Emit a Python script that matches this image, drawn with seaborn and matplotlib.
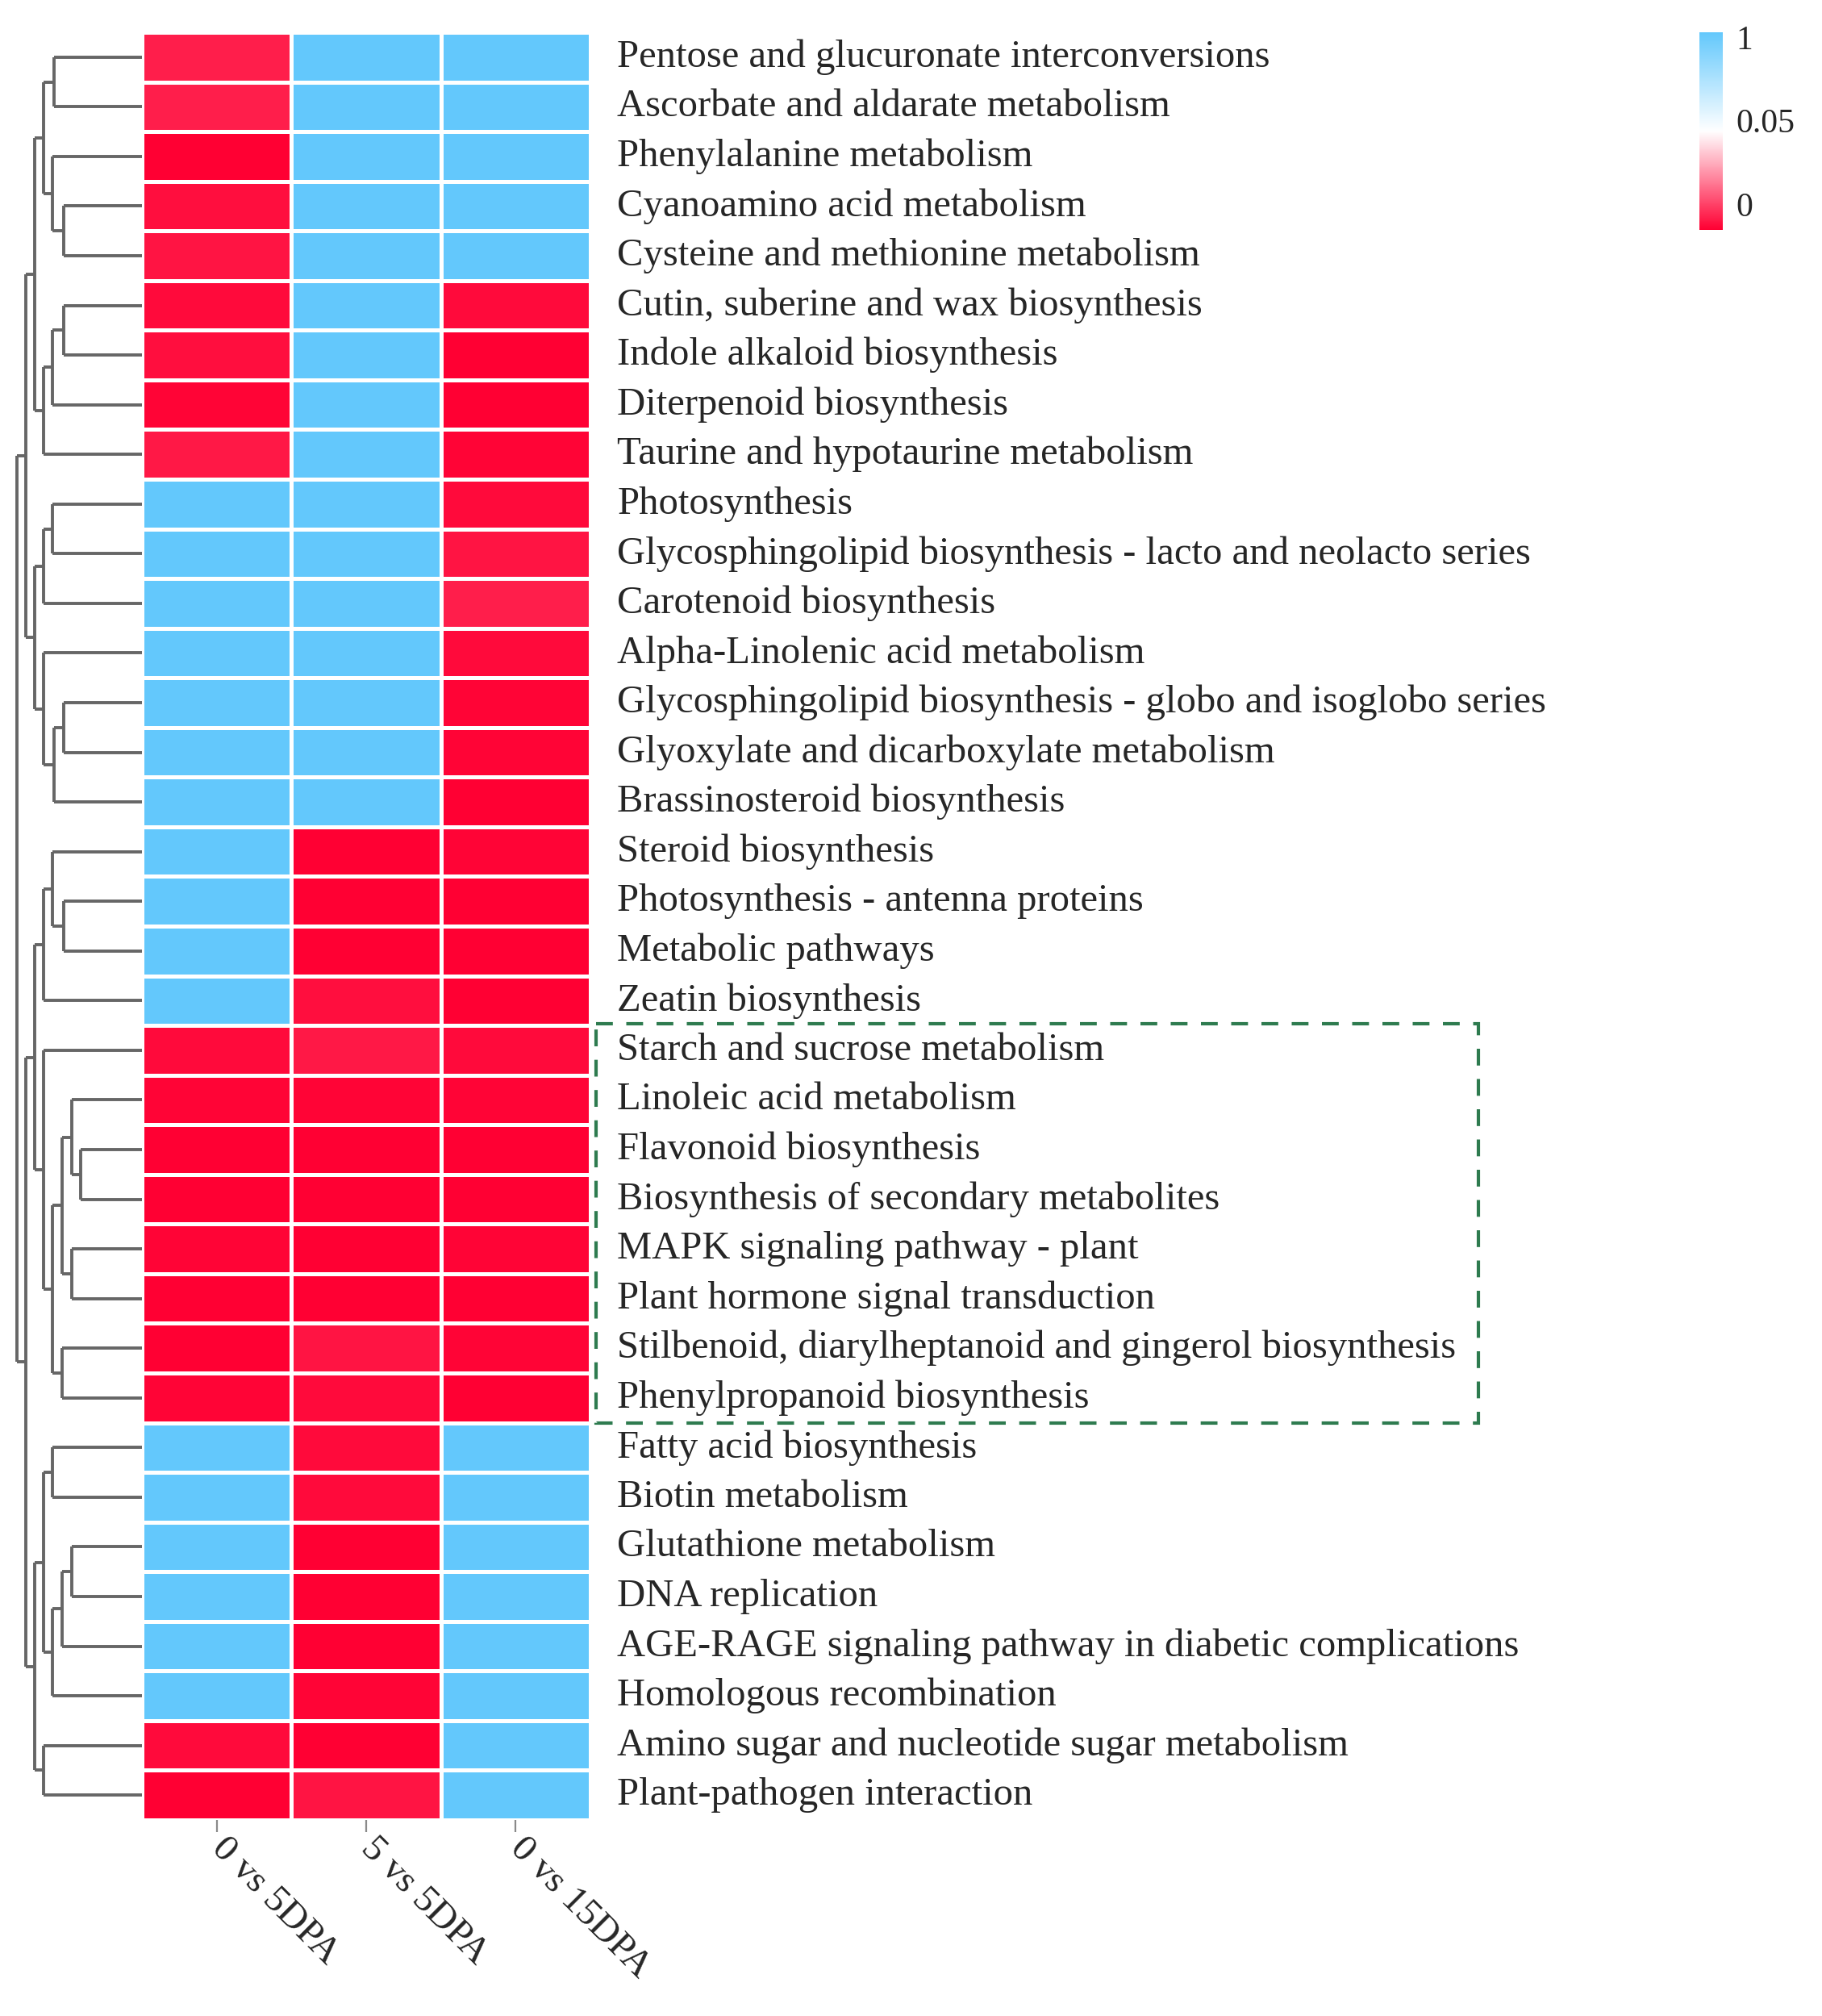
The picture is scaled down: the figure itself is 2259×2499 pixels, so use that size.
import numpy as np
import pandas as pd
import matplotlib
matplotlib.use("Agg")
import matplotlib.pyplot as plt
import matplotlib.transforms as mtransforms
import seaborn as sns
from matplotlib.colors import LinearSegmentedColormap, TwoSlopeNorm
from matplotlib.patches import Rectangle

# ---------------- data ----------------
pathways = [
    "Pentose and glucuronate interconversions",
    "Ascorbate and aldarate metabolism",
    "Phenylalanine metabolism",
    "Cyanoamino acid metabolism",
    "Cysteine and methionine metabolism",
    "Cutin, suberine and wax biosynthesis",
    "Indole alkaloid biosynthesis",
    "Diterpenoid biosynthesis",
    "Taurine and hypotaurine metabolism",
    "Photosynthesis",
    "Glycosphingolipid biosynthesis - lacto and neolacto series",
    "Carotenoid biosynthesis",
    "Alpha-Linolenic acid metabolism",
    "Glycosphingolipid biosynthesis - globo and isoglobo series",
    "Glyoxylate and dicarboxylate metabolism",
    "Brassinosteroid biosynthesis",
    "Steroid biosynthesis",
    "Photosynthesis - antenna proteins",
    "Metabolic pathways",
    "Zeatin biosynthesis",
    "Starch and sucrose metabolism",
    "Linoleic acid metabolism",
    "Flavonoid biosynthesis",
    "Biosynthesis of secondary metabolites",
    "MAPK signaling pathway - plant",
    "Plant hormone signal transduction",
    "Stilbenoid, diarylheptanoid and gingerol biosynthesis",
    "Phenylpropanoid biosynthesis",
    "Fatty acid biosynthesis",
    "Biotin metabolism",
    "Glutathione metabolism",
    "DNA replication",
    "AGE-RAGE signaling pathway in diabetic complications",
    "Homologous recombination",
    "Amino sugar and nucleotide sugar metabolism",
    "Plant-pathogen interaction",
]
comparisons = ["0 vs 5DPA", "5 vs 5DPA", "0 vs 15DPA"]

p_0vs5 = [0.006, 0.006, 0.000, 0.003, 0.004, 0.002, 0.003, 0.001, 0.005,
          1, 1, 1, 1, 1, 1, 1, 1, 1, 1, 1,
          0.002, 0.001, 0.000, 0.000, 0.001, 0.000, 0.000, 0.001,
          1, 1, 1, 1, 1, 1, 0.002, 0.000]
p_5vs5 = [1, 1, 1, 1, 1, 1, 1, 1, 1,
          1, 1, 1, 1, 1, 1, 1,
          0.000, 0.000, 0.000, 0.003,
          0.005, 0.001, 0.000, 0.000, 0.000, 0.000, 0.004, 0.002,
          0.002, 0.002, 0.000, 0.000, 0.000, 0.001, 0.000, 0.004]
p_0vs15 = [1, 1, 1, 1, 1, 0.002, 0.000, 0.000, 0.001,
           0.002, 0.004, 0.006, 0.002, 0.001, 0.001, 0.000,
           0.001, 0.000, 0.000, 0.000,
           0.002, 0.001, 0.000, 0.000, 0.001, 0.000, 0.001, 0.000,
           1, 1, 1, 1, 1, 1, 1, 1]

# row dendrogram: (left, right, merge height); ints are row indices
clust_a = ((0, 1, 325), (2, (3, 4, 290), 330), 363)
clust_b = ((((5, 6, 290), 7, 330), 8, 363))
clust_c = ((9, 10, 330), 11, 363)
clust_d = (12, ((13, 14, 290), 15, 325), 363)
clust_e = ((16, (17, 18, 290), 330), 19, 363)
clust_f = (20, (((21, (22, 23, 228), 260), (24, 25, 260), 295), (26, 27, 295), 330), 363)
clust_g = (((28, 29, 330), (((30, 31, 260), 32, 295), 33, 330), 363), (34, 35, 363), 395)
tree = (((clust_a, clust_b, 395), (clust_c, clust_d, 395), 428),
        (((clust_e, clust_f, 395), clust_g, 428)), 462)

# ---------------- style ----------------
sns.set_style("white")
plt.rcParams["font.family"] = ["Liberation Serif", "DejaVu Serif"]

cmap = LinearSegmentedColormap.from_list(
    "pval", [(0.0, "#FF0033"), (0.5, "#FFFFFF"), (1.0, "#63C8FC")])
norm = TwoSlopeNorm(vmin=0, vcenter=0.05, vmax=1)

W, H = 2259, 2499
fig = plt.figure(figsize=(W / 100, H / 100), dpi=100)


def box(x0, y0, x1, y1):
    return [x0 / W, 1 - y1 / H, (x1 - x0) / W, (y1 - y0) / H]


hx0, hy0, hx1, hy1 = 176, 40, 732, 2256
ax = fig.add_axes(box(hx0, hy0, hx1, hy1))
dax = fig.add_axes(box(0, hy0, hx0, hy1))
cax = fig.add_axes(box(2107, 40, 2136, 285))

df = pd.DataFrame({comparisons[0]: p_0vs5,
                   comparisons[1]: p_5vs5,
                   comparisons[2]: p_0vs15}, index=pathways)

sns.heatmap(df, ax=ax, cmap=cmap, norm=norm, linewidths=2.5,
            linecolor="white", cbar_ax=cax,
            xticklabels=comparisons, yticklabels=pathways)

# row labels on the right
ax.yaxis.tick_right()
ax.tick_params(axis="y", length=0, pad=24, labelsize=35, labelrotation=0,
               left=False, right=True)
for t in ax.get_yticklabels():
    t.set_ha("left")
    t.set_va("center")

# column labels
ax.tick_params(axis="x", length=11, width=1.6, color="#8A8A8A", pad=10,
               labelsize=34, bottom=True)
ax.set_xticklabels(comparisons, rotation=-45, ha="left", va="center",
                   rotation_mode="anchor")
ax.set_xlabel("")
ax.set_ylabel("")

# highlight box
rect = Rectangle((3.04, 19.97), 5.9, 8.03, fill=False, edgecolor="#2E7B4F",
                 linewidth=3, linestyle=(0, (5, 4)), clip_on=False)
ax.add_patch(rect)

# colorbar
cb = ax.collections[0].colorbar
cb.set_ticks([0, 0.05, 1])
cb.set_ticklabels(["0", "0.05", "1"])
cax.tick_params(length=0, pad=12, labelsize=30)
shift = mtransforms.ScaledTranslation(0, 6 / 72, fig.dpi_scale_trans)
for t, va in zip(cax.get_yticklabels(), ["bottom", "center", "top"]):
    t.set_va(va)
    t.set_transform(t.get_transform() + shift)
cb.outline.set_visible(False)

# dendrogram
line_kw = dict(color="#666666", lw=2.8, solid_capstyle="butt")


def draw(node):
    if isinstance(node, int):
        return node + 0.5, 0.0
    left, right, h = node
    yl, hl = draw(left)
    yr, hr = draw(right)
    dax.plot([hl, h], [yl, yl], **line_kw)
    dax.plot([hr, h], [yr, yr], **line_kw)
    dax.plot([h, h], [yl, yr], **line_kw)
    return (yl + yr) / 2, h


draw(tree)
root_px = 21
xmax = tree[2] * hx0 / (hx0 - root_px)
dax.set_xlim(xmax, 0)
dax.set_ylim(len(pathways), 0)
dax.axis("off")

fig.savefig("out.png", dpi=100)
